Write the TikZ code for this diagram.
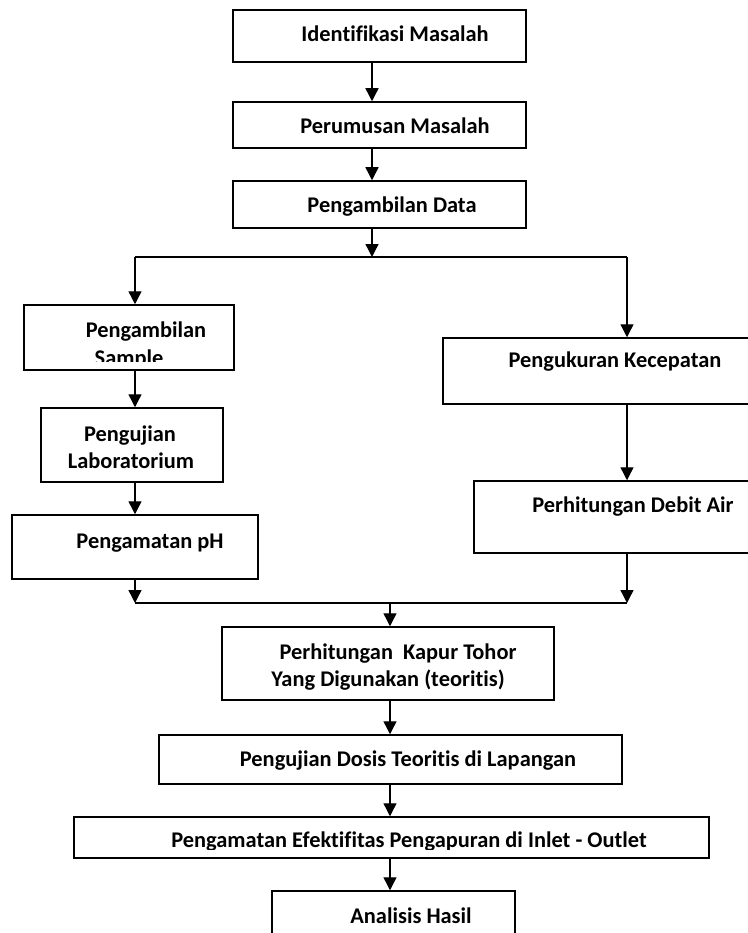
\documentclass[tikz,border=0pt]{standalone}
\usepackage{fontspec}
\setmainfont{Carlito}[Ligatures=NoCommon]
\usetikzlibrary{arrows.meta,fit}
\begin{document}
\begin{tikzpicture}[x=1pt,y=-1pt,
  box/.style={draw,line width=1.5pt,inner sep=0pt,fit={#1}},
  lbl/.style={font=\fontsize{22.4}{27}\selectfont\bfseries,inner sep=0pt,anchor=base},
  arr/.style={line width=1.4pt,-{Triangle[width=13pt,length=13pt]}},
  ln/.style={line width=1.4pt}]
\useasboundingbox (0,0) rectangle (747,933);
% boxes
\node[box={(233,10) (526,62)}] (b1) {};
\node[box={(233,102) (526,148)}] (b2) {};
\node[box={(233,181) (526,228)}] (b3) {};
\node[box={(24,305) (234,370)}] (l1) {};
\node[box={(41,408) (223,482)}] (l2) {};
\node[box={(12,515) (258,579)}] (l3) {};
\node[box={(443,338) (760,404)}] (r1) {};
\node[box={(474,481) (760,553)}] (r2) {};
\node[box={(222,627) (554,700)}] (b4) {};
\node[box={(159,735) (622,784)}] (b5) {};
\node[box={(74,817) (709,858)}] (b6) {};
\node[box={(272,891) (515,950)}] (b7) {};
% labels
\node[lbl] (t1) at (395,42) {Identifikasi Masalah};
\node[lbl] (t2) at (395,134) {Perumusan Masalah};
\node[lbl] (t3) at (392,213) {Pengambilan Data};
\begin{scope}
\clip (24,305) rectangle (234,361);
\node[lbl] (tl1a) at (146,337) {Pengambilan};
\node[lbl] (tl1b) at (129,365) {Sample};
\end{scope}
\node[lbl] (tl2a) at (130,441) {Pengujian};
\node[lbl] (tl2b) at (131,468) {Laboratorium};
\node[lbl] (tl3) at (150,548) {Pengamatan pH};
\node[lbl] (tr1) at (615,367) {Pengukuran Kecepatan};
\node[lbl] (tr2) at (633,512) {Perhitungan Debit Air};
\node[lbl] (t4a) at (398,659) {Perhitungan\ \ Kapur Tohor};
\node[lbl] (t4b) at (388,686) {Yang Digunakan (teoritis)};
\node[lbl] (t5) at (408,766) {Pengujian Dosis Teoritis di Lapangan};
\begin{scope}
\clip (74,817) rectangle (709,849);
\node[lbl] (t6) at (409,847) {Pengamatan Efektifitas Pengapuran di Inlet - Outlet};
\end{scope}
\node[lbl] (t7) at (411,923) {Analisis Hasil};
% helper coordinates
\coordinate (xa) at (372,0);
\coordinate (xl) at (135,0);
\coordinate (xr) at (627,0);
\coordinate (xc) at (390,0);
\coordinate (s1) at (135,257);
\coordinate (s2) at (627,257);
\coordinate (m1) at (135,603);
\coordinate (m2) at (627,603);
\coordinate (m0) at (390,603);
% connectors
\draw[arr] (b1.south -| xa) -- (b2.north -| xa);
\draw[arr] (b2.south -| xa) -- (b3.north -| xa);
\draw[arr] (b3.south -| xa) -- (s1 -| xa);
\draw[ln] (s1) -- (s2);
\draw[arr] (s1) -- (l1.north -| xl);
\draw[arr] (s2) -- (r1.north -| xr);
\draw[arr] (l1.south -| xl) -- (l2.north -| xl);
\draw[arr] (l2.south -| xl) -- (l3.north -| xl);
\draw[arr] (l3.south -| xl) -- (m1);
\draw[arr] (r1.south -| xr) -- (r2.north -| xr);
\draw[arr] (r2.south -| xr) -- (m2);
\draw[ln] (m1) -- (m2);
\draw[arr] (m0) -- (b4.north -| xc);
\draw[arr] (b4.south -| xc) -- (b5.north -| xc);
\draw[arr] (b5.south -| xc) -- (b6.north -| xc);
\draw[arr] (b6.south -| xc) -- (b7.north -| xc);
\end{tikzpicture}
\end{document}
